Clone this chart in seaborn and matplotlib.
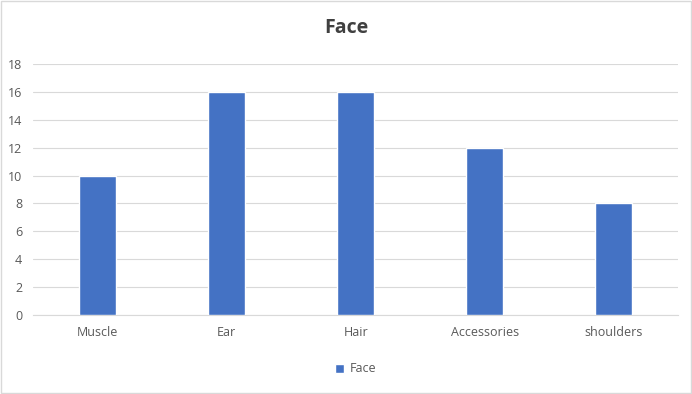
import matplotlib
matplotlib.use("Agg")
import matplotlib.pyplot as plt
import seaborn as sns
import pandas as pd
from matplotlib.patches import Rectangle

categories = ["Muscle", "Ear", "Hair", "Accessories", "shoulders"]
values = [10, 16, 16, 12, 8]
yticks = [0, 2, 4, 6, 8, 10, 12, 14, 16, 18]
series_name = "Face"

df = pd.DataFrame({"category": categories, "value": values})

sns.set_theme(style="white")
plt.rcParams['font.family'] = ['Open Sans', 'DejaVu Sans']

fig = plt.figure(figsize=(6.92, 3.94), dpi=100)
ax = fig.add_axes([0.048, 0.2005, 0.932, 0.637])

sns.barplot(data=df, x="category", y="value", color="#4472C4", width=0.29,
            saturation=1, ax=ax, label=series_name, zorder=3)

ax.set_ylim(0, 18)
ax.set_yticks(yticks)
ax.set_xlim(-0.5, len(categories) - 0.5)
ax.grid(axis="y", color="#D9D9D9", linewidth=0.8, zorder=0)
ax.grid(axis="x", visible=False)
for s in ["top", "right", "left"]:
    ax.spines[s].set_visible(False)
ax.spines["bottom"].set_color("#D9D9D9")
ax.spines["bottom"].set_linewidth(0.8)
ax.tick_params(axis="both", length=0, labelsize=9, colors="#595959")
ax.tick_params(axis="x", pad=8)
ax.tick_params(axis="y", pad=8)
ax.set_xlabel("")
ax.set_ylabel("")

fig.text(0.5, 0.928, "Face", ha="center", va="center", fontsize=14,
         fontweight="bold", color="#404040")

leg = ax.legend(loc="center", bbox_to_anchor=(0.5, -0.215), frameon=False,
                fontsize=9, handlelength=0.75, handleheight=0.75, handletextpad=0.5)
for t in leg.get_texts():
    t.set_color("#595959")

fig.patches.append(Rectangle((0.002, 0.003), 0.996, 0.994, transform=fig.transFigure,
                             fill=False, edgecolor="#D9D9D9", linewidth=1))

fig.savefig("out.png", dpi=100)
